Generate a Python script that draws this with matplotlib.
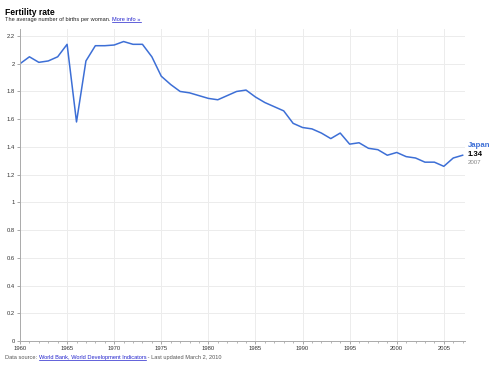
import matplotlib
matplotlib.use("Agg")
import matplotlib.pyplot as plt
import numpy as np

plt.rcParams['font.family'] = ['Liberation Sans', 'DejaVu Sans']

# data
years = list(range(1960, 2008))
fertility = [2.00, 2.05, 2.01, 2.02, 2.05, 2.14, 1.58, 2.02, 2.13, 2.13,
             2.135, 2.16, 2.14, 2.14, 2.05, 1.91, 1.85, 1.80, 1.79, 1.77,
             1.75, 1.74, 1.77, 1.80, 1.81, 1.76, 1.72, 1.69, 1.66, 1.57,
             1.54, 1.53, 1.50, 1.46, 1.50, 1.42, 1.43, 1.39, 1.38, 1.34,
             1.36, 1.33, 1.32, 1.29, 1.29, 1.26, 1.32, 1.34]
yticks = [0, 0.2, 0.4, 0.6, 0.8, 1, 1.2, 1.4, 1.6, 1.8, 2, 2.2]
ytick_labels = ["0", "0.2", "0.4", "0.6", "0.8", "1", "1.2", "1.4", "1.6", "1.8", "2", "2.2"]
xticks = [1960, 1965, 1970, 1975, 1980, 1985, 1990, 1995, 2000, 2005]

line_col = "#3d6fd6"
link_col = "#2222cc"
grey = "#555555"

fig = plt.figure(figsize=(5, 3.67), dpi=100)
ax = fig.add_axes([0.04, 0.0708, 0.89, 0.85])

ax.plot(years, fertility, color=line_col, lw=1.1)
ax.set_xlim(1960, 2007.25)
ax.set_ylim(0, 2.25)

ax.set_yticks(yticks)
ax.set_yticklabels(ytick_labels)
ax.set_xticks(xticks)
ax.set_xticks(years, minor=True)
ax.tick_params(axis="both", labelsize=4.2, colors="#999999", labelcolor="#333333",
               length=2, width=0.6, pad=1.5)
ax.tick_params(axis="x", which="minor", length=1.5, width=0.5, colors="#999999")
ax.grid(True, color="#ececec", lw=0.7)
ax.set_axisbelow(True)
for s in ["top", "right"]:
    ax.spines[s].set_visible(False)
for s in ["left", "bottom"]:
    ax.spines[s].set_color("#aaaaaa")
    ax.spines[s].set_linewidth(0.7)

# titles
fig.text(0.01, 0.967, "Fertility rate", fontsize=6.2, fontweight="bold", va="center")

fig.canvas.draw()
r = fig.canvas.get_renderer()


def line_of(parts, x, y, size):
    for txt, col, under in parts:
        t = fig.text(x, y, txt, fontsize=size, color=col, va="baseline")
        bb = t.get_window_extent(r)
        if under:
            fig.add_artist(plt.Line2D([bb.x0 / 500, bb.x1 / 500],
                                      [y - 1.0 / 367] * 2,
                                      color=col, lw=0.5))
        x = bb.x1 / 500


line_of([("The average number of births per woman. ", "#222222", False),
         ("More info \u00bb", link_col, True)], 0.01, 0.943, 4.1)
line_of([("Data source: ", grey, False),
         ("World Bank, World Development Indicators", link_col, True),
         (" - Last updated March 2, 2010", grey, False)], 0.01, 0.023, 4.1)

# end label
ax.annotate("Japan", (years[-1], fertility[-1]), xytext=(3.5, 7.2), textcoords="offset points",
            color=line_col, fontsize=5.6, fontweight="bold", va="center", annotation_clip=False)
ax.annotate("%.2f" % fertility[-1], (years[-1], fertility[-1]), xytext=(3.5, 0.5),
            textcoords="offset points", color="black", fontsize=5.6, fontweight="bold",
            va="center", annotation_clip=False)
ax.annotate(str(years[-1]), (years[-1], fertility[-1]), xytext=(3.5, -5),
            textcoords="offset points", color="#888888", fontsize=4.4, va="center",
            annotation_clip=False)

fig.savefig("out.png", dpi=100)
